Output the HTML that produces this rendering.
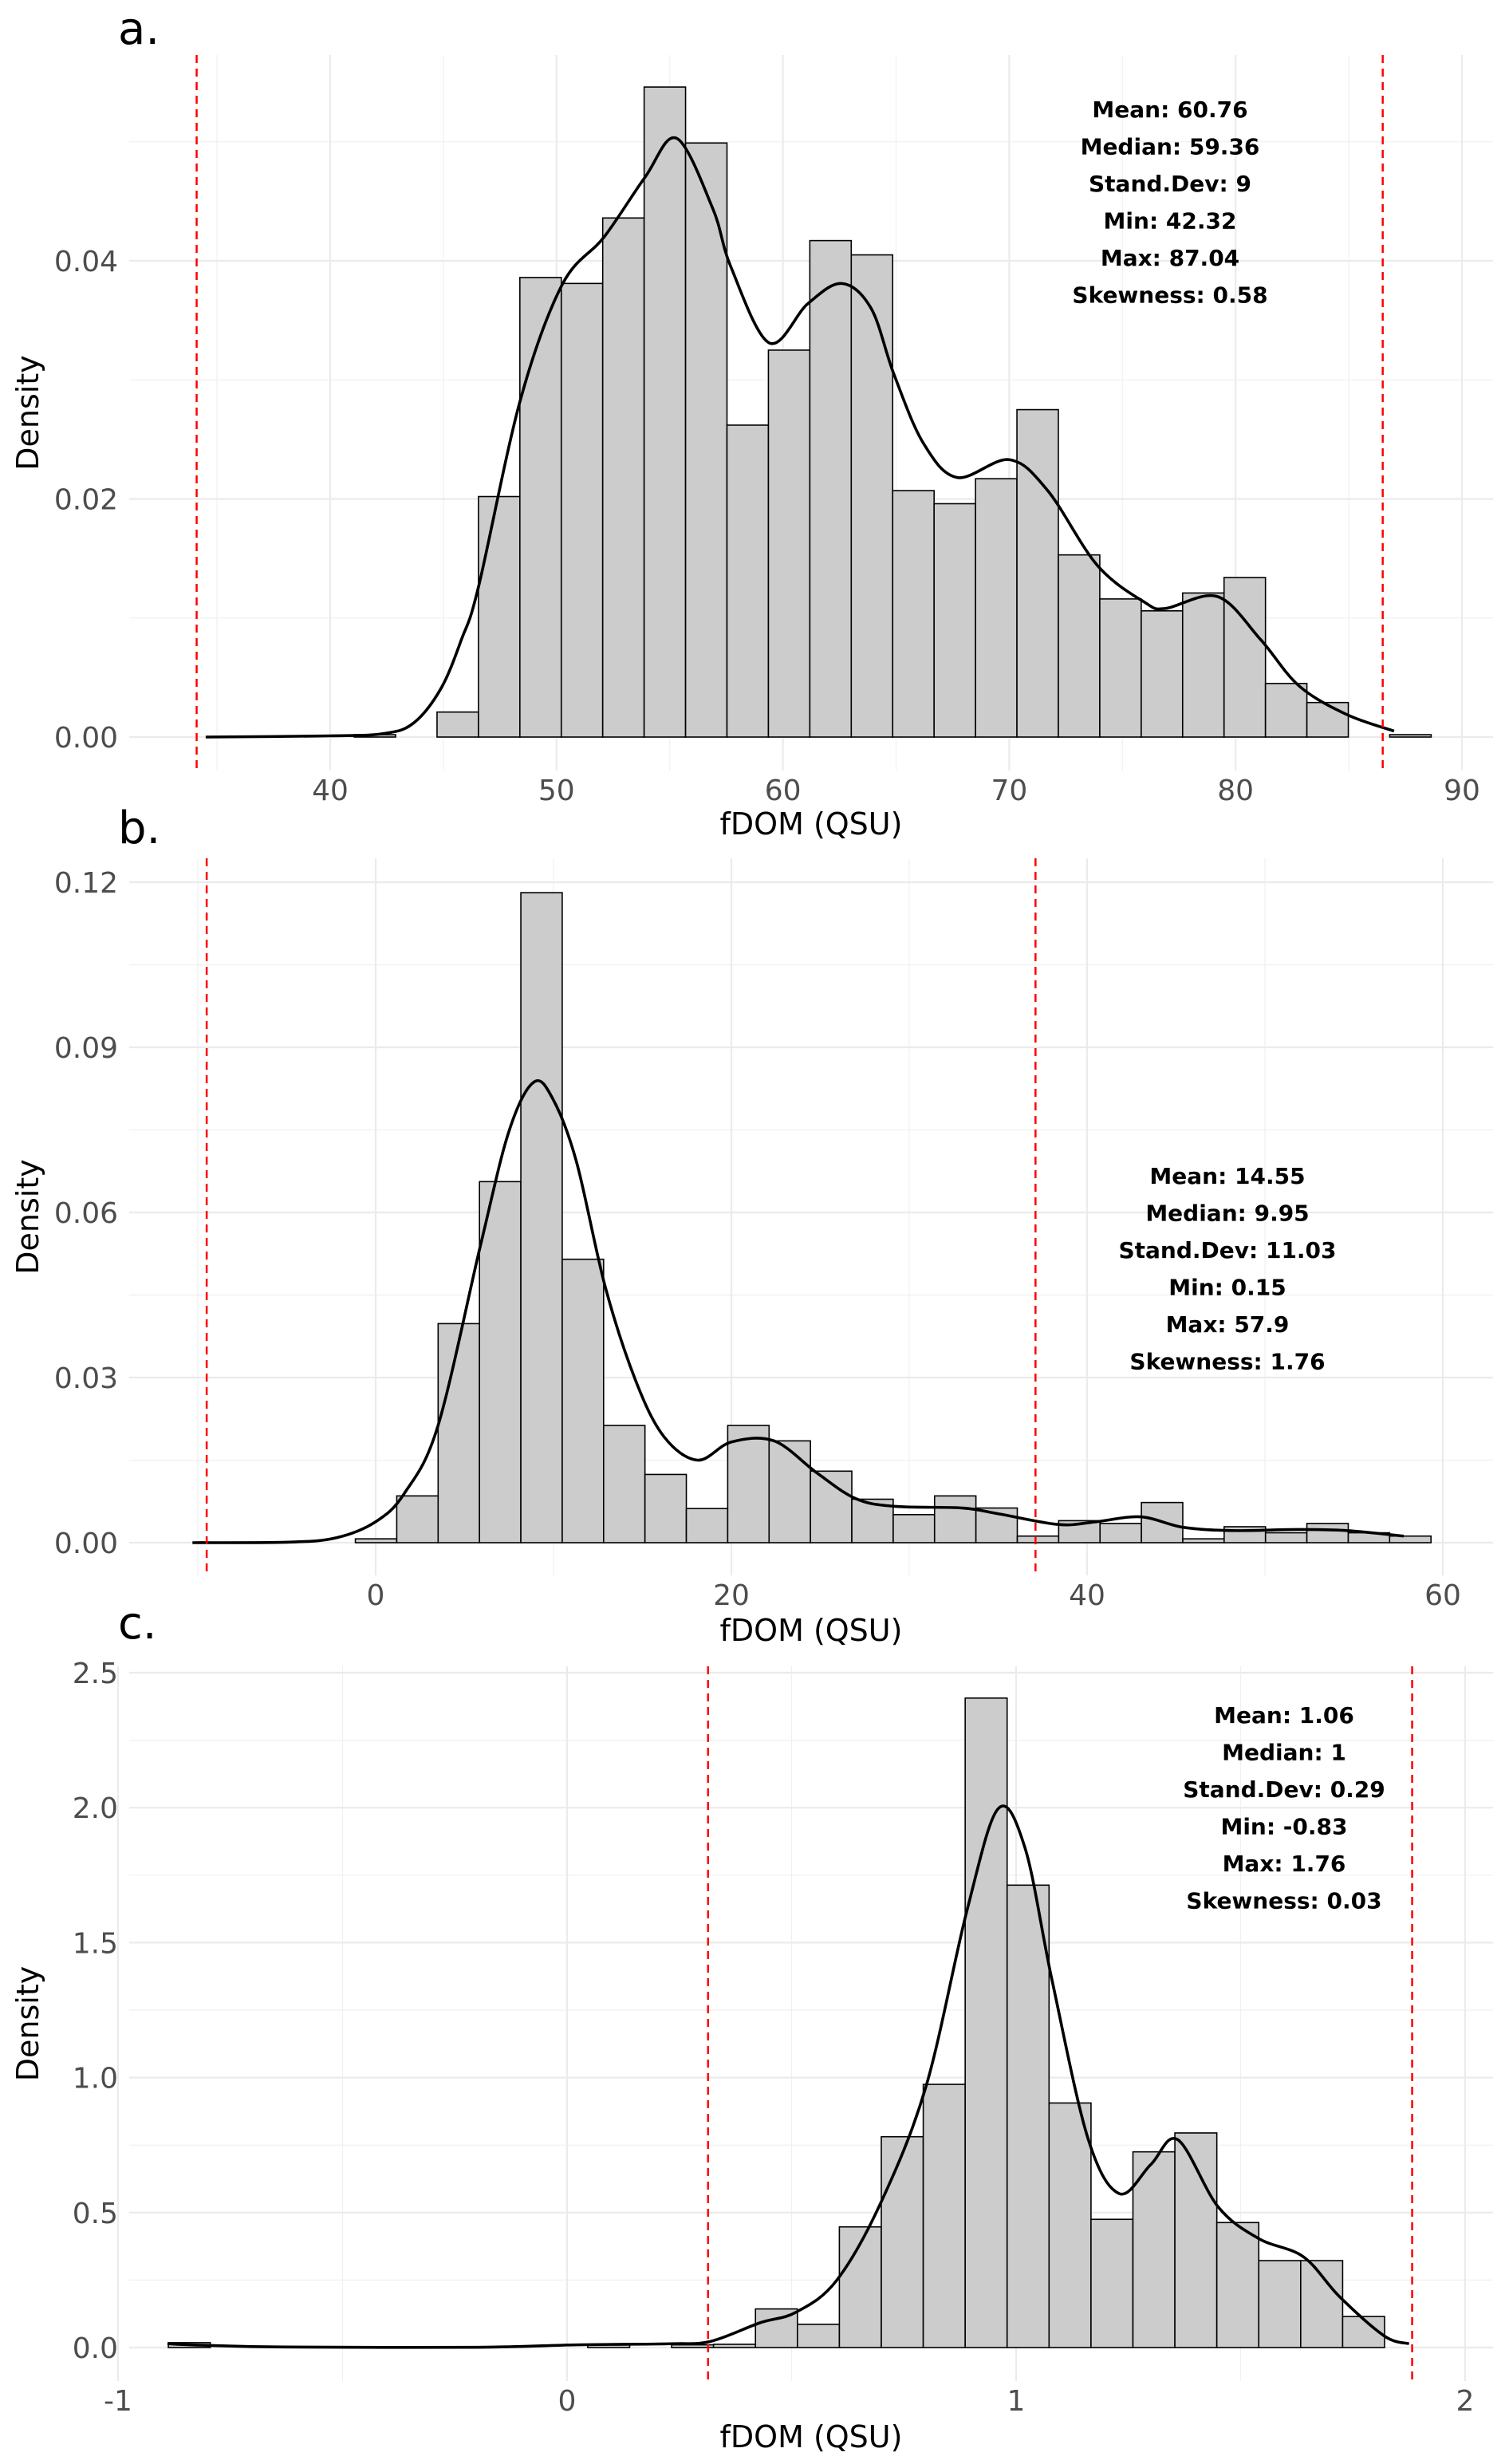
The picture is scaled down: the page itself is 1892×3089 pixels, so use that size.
<!DOCTYPE html>
<html><head><meta charset="utf-8">
<style>
html,body{margin:0;padding:0;background:#fff;}
svg{display:block;font-family:"DejaVu Sans","Liberation Sans",sans-serif;}
</style></head>
<body>
<svg id="chart" width="1892" height="3089" viewBox="0 0 1892 3089" xmlns="http://www.w3.org/2000/svg"></svg>
<script>
// ---- Panel a data ----
const aBinStart = 41.06, aBinWidth = 1.83;
const aDensity = [0.0002,0,0.0021,0.0202,0.0386,0.0381,0.0436,0.0546,0.0499,0.0262,0.0325,0.0417,0.0405,0.0207,0.0196,0.0217,0.0275,0.0153,0.0116,0.0106,0.0121,0.0134,0.0045,0.0029,0,0.0002];
const aCurveX = [34.5,40,42.4,43.7,44.9,45.8,46.55,48.4,50.25,52.1,53.9,55.3,56.9,57.7,59.4,61.1,62.6,63.9,64.9,66.2,67.7,70.0,71.7,73.9,76.0,76.9,79.2,81.1,82.8,84.9,87.0];
const aCurveY = [0,0.0001,0.0003,0.0012,0.0041,0.0082,0.0126,0.0283,0.038,0.042,0.047,0.0503,0.0444,0.0395,0.0331,0.0364,0.0381,0.036,0.0305,0.0247,0.0218,0.0233,0.0207,0.0144,0.0113,0.0108,0.0118,0.0082,0.0043,0.0019,0.0005];
const aRed = [34.1,86.5];
const aXTicks = [40,50,60,70,80,90];
const aYTicks = [0,0.02,0.04];
const aYLabels = ["0.00","0.02","0.04"];
const aStats = ["Mean: 60.76","Median: 59.36","Stand.Dev: 9","Min: 42.32","Max: 87.04","Skewness: 0.58"];

// ---- Panel b data ----
const bBinStart = -1.14, bBinWidth = 2.326;
const bDensity = [0.0007,0.0085,0.0398,0.0656,0.1181,0.0515,0.0213,0.0124,0.0062,0.0213,0.0185,0.013,0.0079,0.0051,0.0085,0.0063,0.0012,0.004,0.0035,0.0073,0.0007,0.0029,0.0018,0.0035,0.0018,0.0012];
const bCurveX = [-10.3,-4.9,-2.2,0,1.6,3.5,5.9,7.5,8.9,10,11.3,12.9,14.6,16.2,18.1,20,22.4,24.8,27,29.2,33,35.1,38.4,40.5,43,45.4,48.1,51.9,54.6,57.8];
const bCurveY = [0,0.0001,0.0009,0.0038,0.0089,0.0212,0.0541,0.0748,0.0837,0.0804,0.0691,0.0466,0.0296,0.0193,0.015,0.0183,0.0185,0.0127,0.008,0.0066,0.0063,0.0052,0.0033,0.0038,0.0047,0.0028,0.0022,0.0024,0.0022,0.0012];
const bRed = [-9.5,37.1];
const bXTicks = [0,20,40,60];
const bYTicks = [0,0.03,0.06,0.09,0.12];
const bYLabels = ["0.00","0.03","0.06","0.09","0.12"];
const bStats = ["Mean: 14.55","Median: 9.95","Stand.Dev: 11.03","Min: 0.15","Max: 57.9","Skewness: 1.76"];

// ---- Panel c data ----
const cBinStart = -0.888, cBinWidth = 0.0934;
const cDensity = [0.018,0,0,0,0,0,0,0,0,0,0.01,0,0.01,0.012,0.143,0.086,0.447,0.781,0.975,2.406,1.713,0.906,0.475,0.725,0.795,0.463,0.322,0.322,0.115];
const cCurveX = [-0.89,-0.8,-0.63,-0.2,0.02,0.23,0.32,0.43,0.51,0.6,0.7,0.8,0.89,0.96,1.02,1.08,1.16,1.23,1.3,1.36,1.45,1.54,1.64,1.72,1.82,1.875];
const cCurveY = [0.014,0.008,0.002,0.001,0.01,0.014,0.023,0.092,0.131,0.248,0.541,0.971,1.615,1.996,1.85,1.361,0.775,0.57,0.678,0.77,0.521,0.404,0.336,0.189,0.043,0.014];
const cRed = [0.314,1.882];
const cXTicks = [-1,0,1,2];
const cYTicks = [0,0.5,1.0,1.5,2.0,2.5];
const cYLabels = ["0.0","0.5","1.0","1.5","2.0","2.5"];
const cStats = ["Mean: 1.06","Median: 1","Stand.Dev: 0.29","Min: -0.83","Max: 1.76","Skewness: 0.03"];

const NS = "http://www.w3.org/2000/svg";
const svg = document.getElementById("chart");
function mk(tag, parent, attrs){
  const e = document.createElementNS(NS, tag);
  for (const k in attrs) e.setAttribute(k, attrs[k]);
  parent.appendChild(e);
  return e;
}

function panel(cfg){
  const g = mk("g", svg, {});
  
  
  const X = v => cfg.x0px + (v - cfg.x0v) * cfg.xs;
  const Y = v => cfg.y0px - v * cfg.ys;
  // gridlines
  const grid = mk("g", g, {});
  
  
  const xt = cfg.xTicks, step = xt[1]-xt[0];
  for (let i = -1; i < xt.length; i++) {
    const m = xt[0] + step*(i+0.5);
    const px = X(m);
    if (px > cfg.left && px < cfg.right) mk("line", grid, {x1:px,x2:px,y1:cfg.top,y2:cfg.bottom,stroke:"#f0f0f0","stroke-width":1.2});
  }
  const yt = cfg.yTicks, ys = yt[1]-yt[0];
  for (let i = 0; i < yt.length; i++) {
    const m = yt[i] + ys/2; const py = Y(m);
    if (py > cfg.top) mk("line", grid, {x1:cfg.left,x2:cfg.right,y1:py,y2:py,stroke:"#f0f0f0","stroke-width":1.2});
  }
  xt.forEach(v => { mk("line", grid, {x1:X(v),x2:X(v),y1:cfg.top,y2:cfg.bottom,stroke:"#ebebeb","stroke-width":2.2}); });
  yt.forEach(v => { mk("line", grid, {x1:cfg.left,x2:cfg.right,y1:Y(v),y2:Y(v),stroke:"#ebebeb","stroke-width":2.2}); });
  // bars
  const bars = mk("g", g, {});
  
  
  cfg.density.forEach((d, i) => {
    const x1 = X(cfg.binStart + i*cfg.binWidth), x2 = X(cfg.binStart + (i+1)*cfg.binWidth);
    const r = mk("rect", bars, {x:x1,y:Y(d),width:x2-x1,height:Math.max(Y(0)-Y(d),0),fill:"#cccccc",stroke:"#000","stroke-width":1.6});
    
    
  });
  // density curve (smoothed through points)
  const pts = cfg.cx.map((v,i)=>[X(v),Y(cfg.cy[i])]);
  let d = "M"+pts[0][0]+","+pts[0][1];
  for (let i=0;i<pts.length-1;i++){
    const p0=pts[Math.max(i-1,0)],p1=pts[i],p2=pts[i+1],p3=pts[Math.min(i+2,pts.length-1)];
    const c1=[p1[0]+(p2[0]-p0[0])/6,p1[1]+(p2[1]-p0[1])/6];
    const c2=[p2[0]-(p3[0]-p1[0])/6,p2[1]-(p3[1]-p1[1])/6];
    d+=" C"+c1[0]+","+c1[1]+" "+c2[0]+","+c2[1]+" "+p2[0]+","+p2[1];
  }
  const curve = mk("path", g, {d:d,fill:"none",stroke:"#000","stroke-width":3.6});
  
  
  // red dashed lines
  cfg.red.forEach((v,i) => {
    const l = mk("line", g, {x1:X(v),x2:X(v),y1:cfg.top,y2:cfg.bottom,stroke:"#ff0000","stroke-width":2.5,"stroke-dasharray":"10,7"});
    
    
  });
  // tick labels
  xt.forEach(v => {
    const t = mk("text", g, {x:X(v),y:cfg.bottom+37,"text-anchor":"middle","font-size":36,fill:"#4d4d4d"});
    t.textContent = String(v);
    
    
  });
  yt.forEach((v,i) => {
    const t = mk("text", g, {x:148,y:Y(v)+13,"text-anchor":"end","font-size":36,fill:"#4d4d4d"});
    t.textContent = cfg.yLabels[i];
    
    
  });
  const xl = mk("text", g, {x:1017,y:cfg.xlabY,"text-anchor":"middle","font-size":38,fill:"#000"});
  xl.textContent = "fDOM (QSU)";
  
  
  const yl = mk("text", g, {x:0,y:0,"text-anchor":"middle","font-size":38,fill:"#000",transform:"translate(48,"+((cfg.top+cfg.bottom)/2)+") rotate(-90)"});
  yl.textContent = "Density";
  
  
  const pl = mk("text", g, {x:148,y:cfg.letterY,"font-size":56,fill:"#000"});
  pl.textContent = cfg.letter;
  
  
  const st = mk("g", g, {});
  
  
  cfg.stats.forEach((s,i) => {
    const t = mk("text", st, {x:cfg.statX,y:cfg.statY + i*46.5 + 10,"text-anchor":"middle","font-size":28,"font-weight":"bold",fill:"#000"});
    t.textContent = s;
    
    
  });
}

panel({name:"panel-a", x0v:40, x0px:414, xs:28.38, y0px:924, ys:14925, left:162, right:1872, top:69, bottom:966,
  binStart:aBinStart, binWidth:aBinWidth, density:aDensity, cx:aCurveX, cy:aCurveY, red:aRed,
  xTicks:aXTicks, yTicks:aYTicks, yLabels:aYLabels, stats:aStats, statX:1467, statY:137, xlabY:1046, letter:"a.", letterY:55});
panel({name:"panel-b", x0v:0, x0px:471, xs:22.3, y0px:1934, ys:6900, left:162, right:1872, top:1076, bottom:1975,
  binStart:bBinStart, binWidth:bBinWidth, density:bDensity, cx:bCurveX, cy:bCurveY, red:bRed,
  xTicks:bXTicks, yTicks:bYTicks, yLabels:bYLabels, stats:bStats, statX:1539, statY:1474, xlabY:2057, letter:"b.", letterY:1057});
panel({name:"panel-c", x0v:-1, x0px:148, xs:563, y0px:2943, ys:338.4, left:162, right:1872, top:2089, bottom:2985,
  binStart:cBinStart, binWidth:cBinWidth, density:cDensity, cx:cCurveX, cy:cCurveY, red:cRed,
  xTicks:cXTicks, yTicks:cYTicks, yLabels:cYLabels, stats:cStats, statX:1610, statY:2150, xlabY:3068, letter:"c.", letterY:2054});
</script>
</body></html>
